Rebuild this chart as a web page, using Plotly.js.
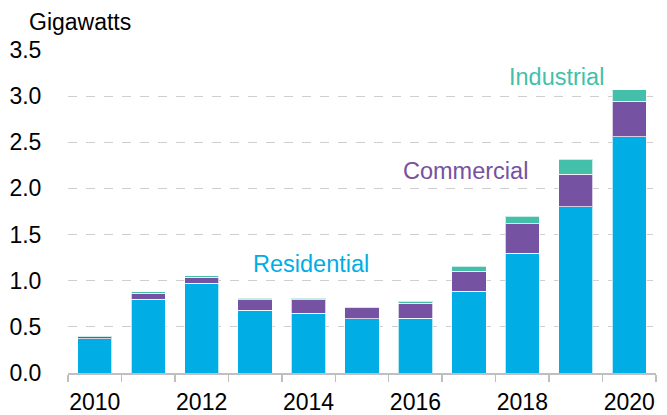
<!DOCTYPE html>
<html>
<head>
<meta charset="utf-8">
<script src="https://cdn.plot.ly/plotly-3.0.1.min.js"></script>
<style>html,body{margin:0;padding:0;background:#fff;}#chart{width:667px;height:415px;}</style>
</head>
<body>
<div id="chart"></div>
<script>
var years = [2010, 2011, 2012, 2013, 2014, 2015, 2016, 2017, 2018, 2019, 2020];
var residential = [0.37, 0.80, 0.97, 0.68, 0.65, 0.59, 0.595, 0.885, 1.30, 1.80, 2.56];
var commercial = [0.025, 0.065, 0.065, 0.115, 0.145, 0.115, 0.16, 0.22, 0.315, 0.355, 0.385];
var industrial = [0.01, 0.015, 0.02, 0.015, 0.015, 0.015, 0.025, 0.05, 0.085, 0.16, 0.125];
var tickYears = [2010, 2012, 2014, 2016, 2018, 2020];
var yTicks = [0, 0.5, 1.0, 1.5, 2.0, 2.5, 3.0, 3.5];

var cBlue = '#00ADE4', cPurple = '#7552A2', cTeal = '#43BFAA';
var edge = {color: 'rgba(255,255,255,0.7)', width: 1};

var traces = [
  {type: 'bar', name: 'Residential', x: years, y: residential, marker: {color: cBlue, line: edge}},
  {type: 'bar', name: 'Commercial', x: years, y: commercial, marker: {color: cPurple, line: edge}},
  {type: 'bar', name: 'Industrial', x: years, y: industrial, marker: {color: cTeal, line: edge}}
];

var fontFam = '"Liberation Sans", Arial, sans-serif';

var layout = {
  width: 667, height: 415,
  barmode: 'stack', bargap: 0.36,
  showlegend: false,
  paper_bgcolor: '#fff', plot_bgcolor: '#fff',
  margin: {l: 68, r: 11, t: 50, b: 42, pad: 0},
  font: {family: fontFam, size: 23, color: '#000'},
  xaxis: {
    type: 'linear', range: [2009.5, 2020.5],
    tickmode: 'array', tickvals: tickYears, ticktext: tickYears.map(String),
    ticks: 'outside', ticklen: 8, tickcolor: 'rgba(0,0,0,0)',
    showgrid: false, zeroline: false,
    showline: true, linecolor: '#BFBFBF', linewidth: 1.5,
    minor: {tick0: 2009.5, dtick: 1, ticks: 'outside', ticklen: 7, tickcolor: '#BFBFBF', tickwidth: 1.5, showgrid: false},
    tickfont: {size: 23, color: '#000'}
  },
  yaxis: {
    range: [0, 3.5], tickmode: 'array', tickvals: yTicks,
    ticktext: yTicks.map(function(v){return v.toFixed(1);}),
    ticks: 'outside', ticklen: 21, tickcolor: 'rgba(0,0,0,0)',
    showgrid: true, gridcolor: '#CFCFCF', griddash: 'dash', gridwidth: 1,
    zeroline: false, showline: false,
    tickfont: {size: 23, color: '#000'}
  },
  annotations: [
    {text: 'Gigawatts', xref: 'paper', yref: 'paper', x: -0.0697, y: 1.0868, xanchor: 'left', yanchor: 'middle', showarrow: false, font: {size: 23, color: '#000'}},
    {text: 'Residential', xref: 'x', yref: 'y', x: 2014.04, y: 1.179, xanchor: 'center', yanchor: 'middle', showarrow: false, font: {size: 23.5, color: cBlue}},
    {text: 'Commercial', xref: 'x', yref: 'y', x: 2016.94, y: 2.186, xanchor: 'center', yanchor: 'middle', showarrow: false, font: {size: 23.5, color: cPurple}},
    {text: 'Industrial', xref: 'x', yref: 'y', x: 2018.63, y: 3.209, xanchor: 'center', yanchor: 'middle', showarrow: false, font: {size: 23.5, color: cTeal}}
  ]
};

Plotly.newPlot('chart', traces, layout, {displayModeBar: false, staticPlot: true});
</script>
</body>
</html>
